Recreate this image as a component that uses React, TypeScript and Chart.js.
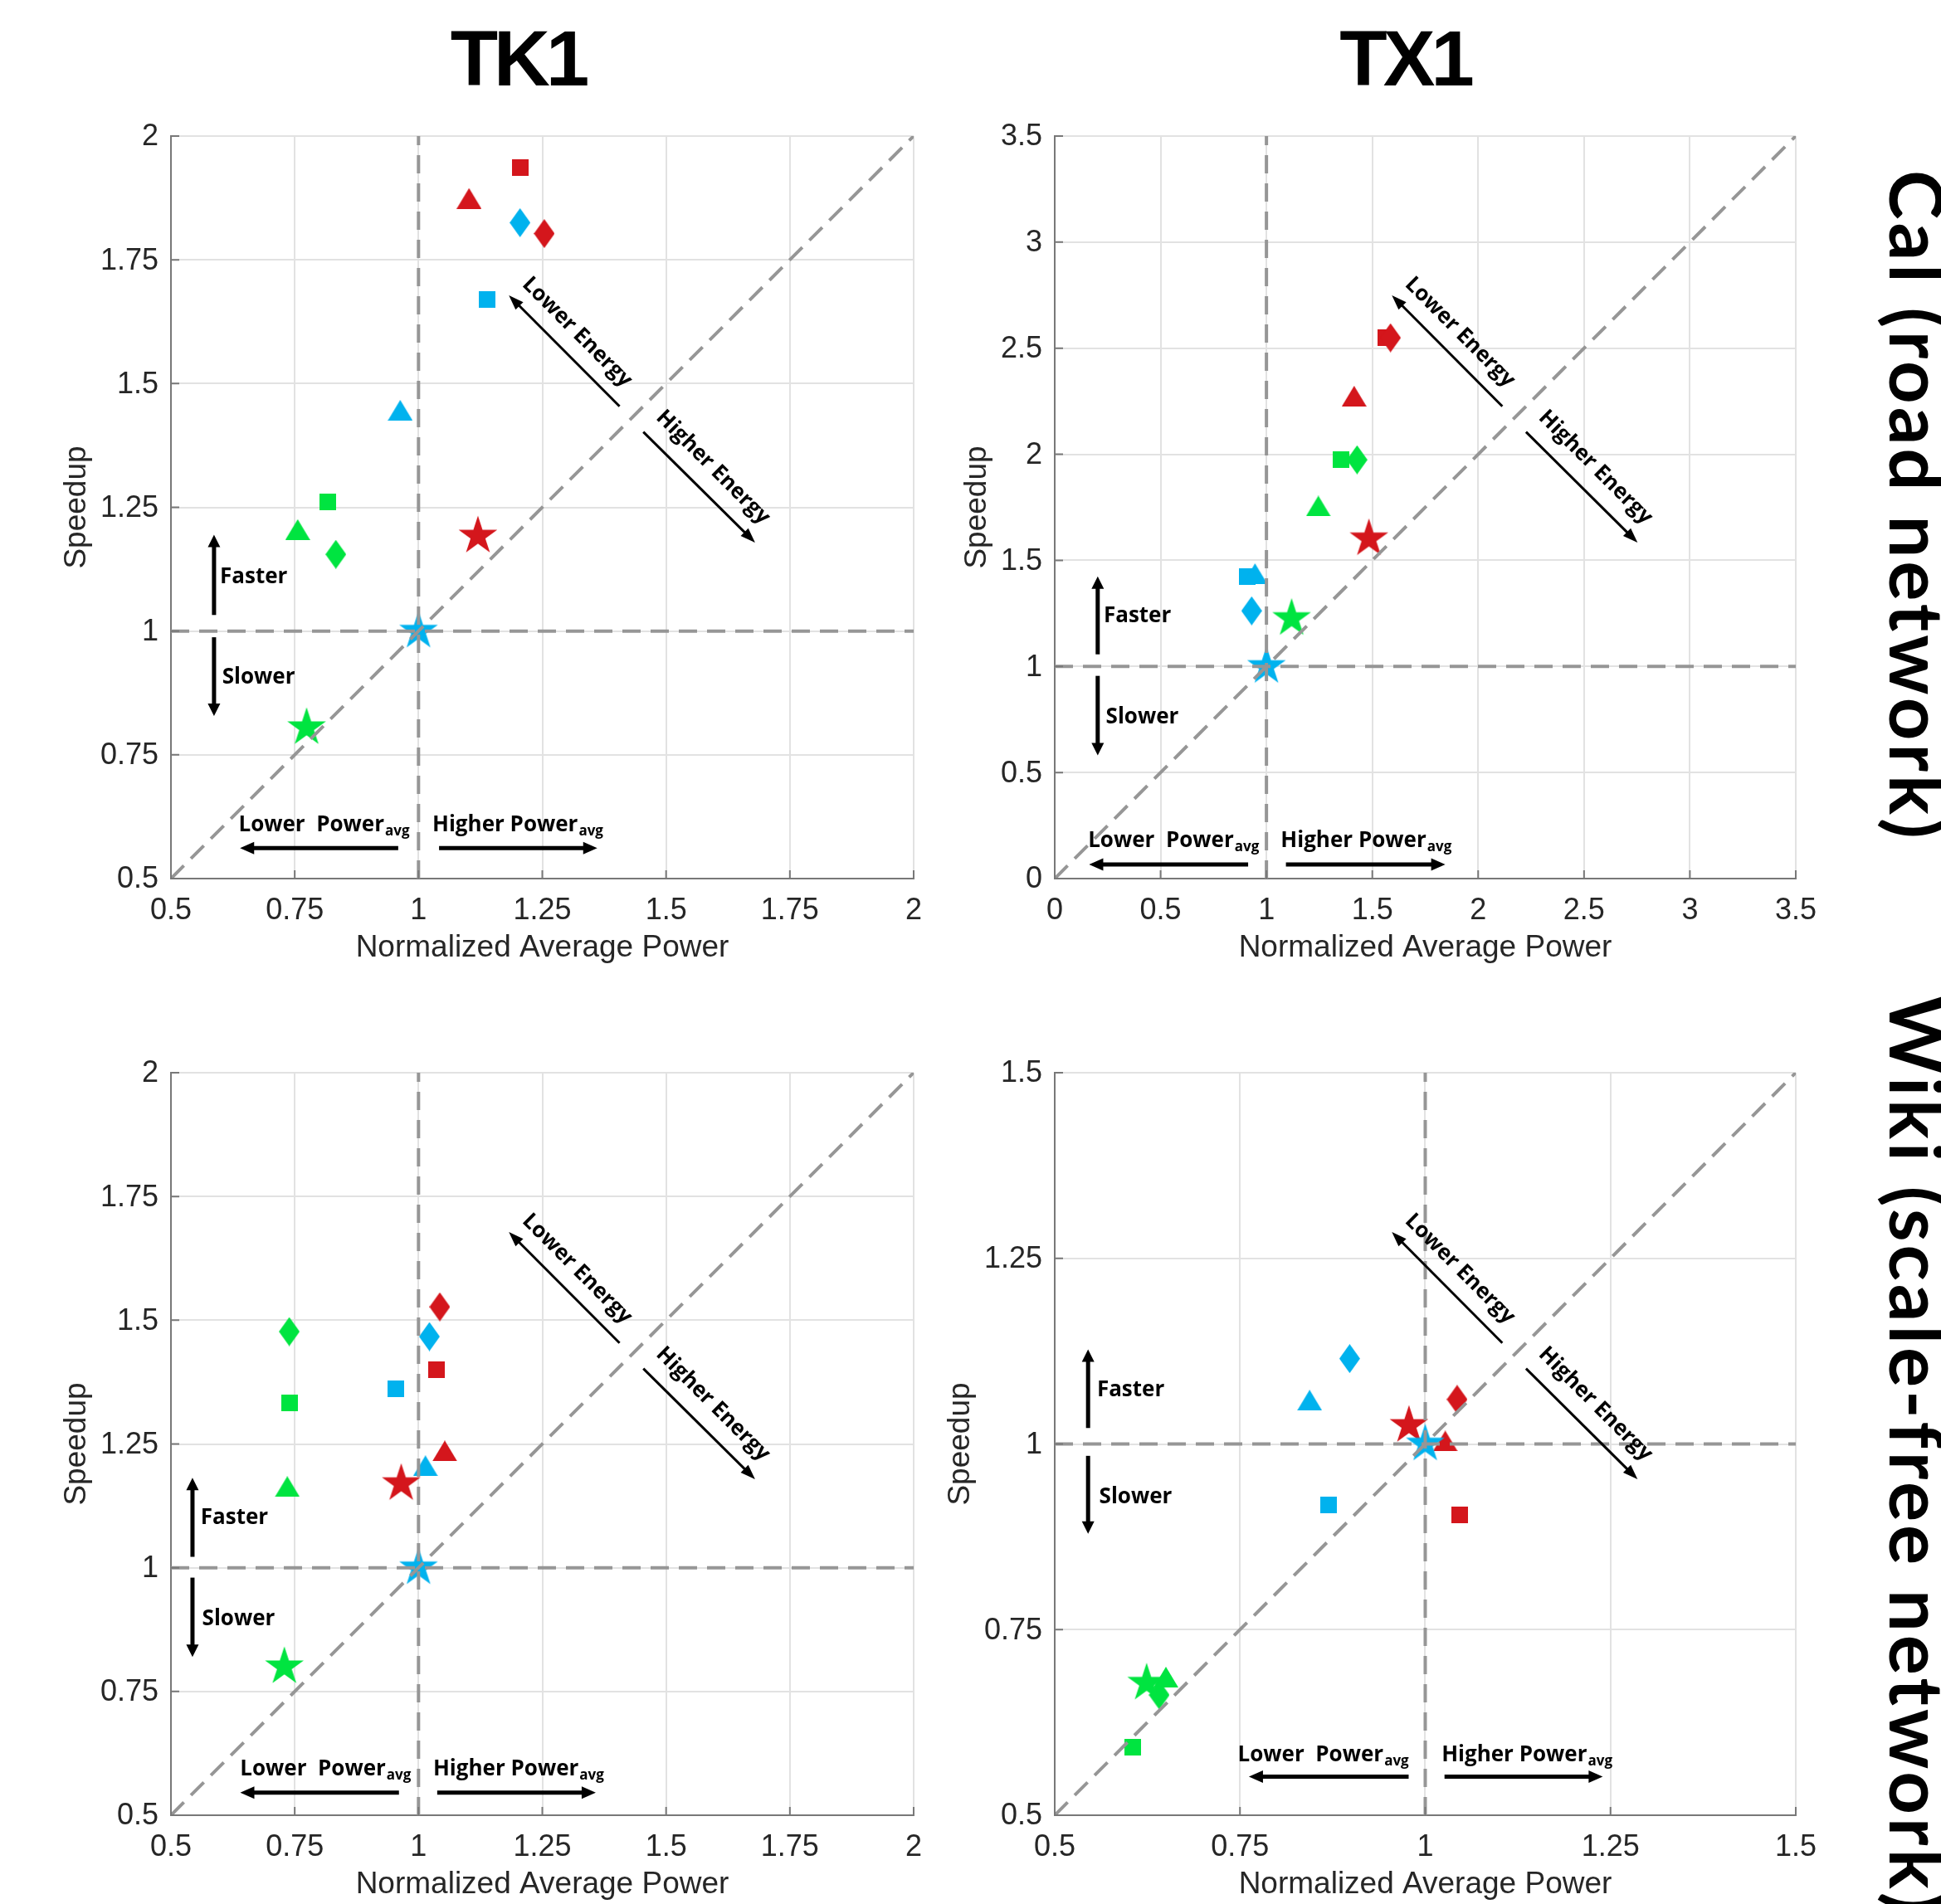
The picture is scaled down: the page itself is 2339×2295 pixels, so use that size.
import React, { useEffect, useRef } from "react";
import { Chart, registerables } from "chart.js";

Chart.register(...registerables);

// ---------------- data ----------------
// order inside each array: [square, triangle, diamond, star]
const tk1CalRedX = [1.206, 1.102, 1.254, 1.12];
const tk1CalRedY = [1.936, 1.874, 1.803, 1.192];
const tk1CalCyanX = [1.138, 0.963, 1.205, 1.0];
const tk1CalCyanY = [1.669, 1.446, 1.825, 1.0];
const tk1CalGreenX = [0.816, 0.756, 0.833, 0.774];
const tk1CalGreenY = [1.261, 1.205, 1.155, 0.805];

const tx1CalRedX = [1.565, 1.414, 1.586, 1.484];
const tx1CalRedY = [2.549, 2.274, 2.549, 1.602];
const tx1CalCyanX = [0.91, 0.946, 0.93, 1.0];
const tx1CalCyanY = [1.423, 1.437, 1.262, 1.0];
const tx1CalGreenX = [1.354, 1.245, 1.428, 1.119];
const tx1CalGreenY = [1.974, 1.756, 1.974, 1.226];

const tk1WikiRedX = [1.036, 1.053, 1.043, 0.965];
const tk1WikiRedY = [1.4, 1.236, 1.527, 1.17];
const tk1WikiCyanX = [0.955, 1.014, 1.022, 1.0];
const tk1WikiCyanY = [1.361, 1.206, 1.467, 1.0];
const tk1WikiGreenX = [0.739, 0.735, 0.739, 0.729];
const tk1WikiGreenY = [1.333, 1.164, 1.477, 0.8];

const tx1WikiRedX = [1.047, 1.027, 1.043, 0.978];
const tx1WikiRedY = [0.905, 1.004, 1.06, 1.025];
const tx1WikiCyanX = [0.869, 0.844, 0.898, 1.0];
const tx1WikiCyanY = [0.918, 1.059, 1.115, 1.0];
const tx1WikiGreenX = [0.605, 0.65, 0.641, 0.624];
const tx1WikiGreenY = [0.592, 0.686, 0.662, 0.678];

const tk1Ticks = [0.5, 0.75, 1, 1.25, 1.5, 1.75, 2];
const tx1CalTicks = [0, 0.5, 1, 1.5, 2, 2.5, 3, 3.5];
const tx1WikiTicks = [0.5, 0.75, 1, 1.25, 1.5];

const columnTitles = ["TK1", "TX1"];
const rowTitles = ["Cal (road network)", "Wiki (scale-free network)"];
const xTitle = "Normalized Average Power";
const yTitle = "Speedup";

// ---------------- styles ----------------
const RED = "rgb(212,22,28)";
const CYAN = "rgb(0,178,238)";
const GREEN = "rgb(0,228,64)";
const REF_GRAY = "rgb(150,150,150)";
const GRID = "rgb(226,226,226)";
const AXIS = "rgb(120,120,120)";
const TEXT = "#262626";
const NOTE_FONT = 'bold 26px "Open Sans"';
const SUB_FONT = 'bold 17px "Open Sans"';
const NOTE_CAP = 9;

const PLOT = 895;
const PAD_TOP = 44;
const PAD_RIGHT = 40;
const Y_AXIS_W = 206;
const X_AXIS_H = 110;
const CW = Y_AXIS_W + PLOT + PAD_RIGHT;
const CH = PAD_TOP + PLOT + X_AXIS_H;

type Shape = "square" | "triangle" | "diamond" | "star";

function makeMarker(shape: Shape, color: string): HTMLCanvasElement {
  const c = document.createElement("canvas");
  if (shape === "square") {
    c.width = 20;
    c.height = 20;
  } else if (shape === "triangle") {
    c.width = 30;
    c.height = 25;
  } else if (shape === "diamond") {
    c.width = 25;
    c.height = 35;
  } else {
    c.width = 52;
    c.height = 52;
  }
  const ctx = c.getContext("2d")!;
  ctx.fillStyle = color;
  ctx.beginPath();
  if (shape === "square") {
    ctx.rect(0, 0, 20, 20);
  } else if (shape === "triangle") {
    ctx.moveTo(15, 0);
    ctx.lineTo(30, 25);
    ctx.lineTo(0, 25);
  } else if (shape === "diamond") {
    ctx.moveTo(12.5, 0);
    ctx.lineTo(25, 17.5);
    ctx.lineTo(12.5, 35);
    ctx.lineTo(0, 17.5);
  } else {
    const R = 24.5;
    const r = R * 0.382;
    for (let i = 0; i < 10; i++) {
      const ang = -Math.PI / 2 + (i * Math.PI) / 5;
      const rad = i % 2 === 0 ? R : r;
      const px = 26 + rad * Math.cos(ang);
      const py = 26 + rad * Math.sin(ang);
      if (i === 0) ctx.moveTo(px, py);
      else ctx.lineTo(px, py);
    }
  }
  ctx.closePath();
  ctx.fill();
  return c;
}

function arrow(ctx: CanvasRenderingContext2D, x1: number, y1: number, x2: number, y2: number, lw: number, hl: number, hw: number) {
  const dx = x2 - x1;
  const dy = y2 - y1;
  const L = Math.hypot(dx, dy);
  const ux = dx / L;
  const uy = dy / L;
  const bx = x2 - ux * hl;
  const by = y2 - uy * hl;
  ctx.lineWidth = lw;
  ctx.lineCap = "butt";
  ctx.beginPath();
  ctx.moveTo(x1, y1);
  ctx.lineTo(bx + ux, by + uy);
  ctx.stroke();
  ctx.beginPath();
  ctx.moveTo(x2, y2);
  ctx.lineTo(bx - (uy * hw) / 2, by + (ux * hw) / 2);
  ctx.lineTo(bx + (uy * hw) / 2, by - (ux * hw) / 2);
  ctx.closePath();
  ctx.fill();
}

function subText(ctx: CanvasRenderingContext2D, main: string, sub: string, x: number, y: number) {
  ctx.font = NOTE_FONT;
  ctx.fillText(main, x, y);
  const w = ctx.measureText(main).width;
  ctx.font = SUB_FONT;
  ctx.fillText(sub, x + w + 1, y + 5);
  ctx.font = NOTE_FONT;
}

const notesPlugin = {
  id: "notes",
  afterDraw(chart: any, _args: any, o: any) {
    if (!o || o.arrowX === undefined) return;
    const ctx: CanvasRenderingContext2D = chart.ctx;
    const a = chart.chartArea;
    const W = a.right - a.left;
    const H = a.bottom - a.top;
    const X = (f: number) => a.left + f * W;
    const Y = (f: number) => a.top + f * H;
    ctx.save();
    // inward tick marks
    const xs = chart.scales.x;
    const ys = chart.scales.y;
    ctx.strokeStyle = AXIS;
    ctx.lineWidth = 2;
    ctx.beginPath();
    xs.ticks.forEach((t: any) => {
      const px = xs.getPixelForValue(t.value);
      ctx.moveTo(px, a.bottom);
      ctx.lineTo(px, a.bottom - 10);
    });
    ys.ticks.forEach((t: any) => {
      const py = ys.getPixelForValue(t.value);
      ctx.moveTo(a.left, py);
      ctx.lineTo(a.left + 10, py);
    });
    ctx.stroke();

    ctx.fillStyle = "#000";
    ctx.strokeStyle = "#000";
    // faster / slower
    arrow(ctx, X(o.arrowX), Y(o.upTail), X(o.arrowX), Y(o.upTip), 5, 15, 15);
    arrow(ctx, X(o.arrowX), Y(o.downTail), X(o.arrowX), Y(o.downTip), 5, 15, 15);
    ctx.font = NOTE_FONT;
    ctx.textAlign = "left";
    ctx.textBaseline = "alphabetic";
    ctx.fillText("Faster", X(o.fasterX), Y(o.fasterY) + NOTE_CAP);
    ctx.fillText("Slower", X(o.slowerX), Y(o.slowerY) + NOTE_CAP);
    // power
    subText(ctx, "Lower  Power", "avg", X(o.lowerTextX), Y(o.powerTextY) + NOTE_CAP);
    subText(ctx, "Higher Power", "avg", X(o.higherTextX), Y(o.powerTextY) + NOTE_CAP);
    arrow(ctx, X(o.leftTail), Y(o.powerArrowY), X(o.leftTip), Y(o.powerArrowY), 5, 17, 15);
    arrow(ctx, X(o.rightTail), Y(o.powerArrowY), X(o.rightTip), Y(o.powerArrowY), 5, 17, 15);
    // energy
    arrow(ctx, X(0.604), Y(0.364), X(0.455), Y(0.2145), 3, 18, 13);
    arrow(ctx, X(0.636), Y(0.3985), X(0.7865), Y(0.5476), 3, 18, 13);
    ctx.textAlign = "center";
    const rot = (txt: string, cx: number, cy: number) => {
      ctx.save();
      ctx.translate(cx, cy);
      ctx.rotate(Math.PI / 4);
      ctx.fillText(txt, 0, NOTE_CAP);
      ctx.restore();
    };
    rot("Lower Energy", X(0.548), Y(0.263));
    rot("Higher Energy", X(0.731), Y(0.445));
    ctx.restore();
  },
};

type Notes = {
  arrowX: number; upTail: number; upTip: number; downTail: number; downTip: number;
  fasterX: number; fasterY: number; slowerX: number; slowerY: number;
  powerTextY: number; lowerTextX: number; higherTextX: number; powerArrowY: number;
  leftTip: number; leftTail: number; rightTail: number; rightTip: number;
};

type Spec = {
  redX: number[]; redY: number[]; cyanX: number[]; cyanY: number[]; greenX: number[]; greenY: number[];
  ticks: number[]; yTitleOffset: number; notes: Notes;
};

const notesA: Notes = {
  arrowX: 0.058, upTail: 0.645, upTip: 0.537, downTail: 0.675, downTip: 0.781,
  fasterX: 0.066, fasterY: 0.592, slowerX: 0.069, slowerY: 0.727,
  powerTextY: 0.926, lowerTextX: 0.091, higherTextX: 0.352, powerArrowY: 0.959,
  leftTip: 0.093, leftTail: 0.306, rightTail: 0.361, rightTip: 0.574,
};
const notesB: Notes = {
  arrowX: 0.058, upTail: 0.698, upTip: 0.593, downTail: 0.727, downTip: 0.834,
  fasterX: 0.066, fasterY: 0.645, slowerX: 0.069, slowerY: 0.781,
  powerTextY: 0.948, lowerTextX: 0.045, higherTextX: 0.305, powerArrowY: 0.981,
  leftTip: 0.0464, leftTail: 0.261, rightTail: 0.312, rightTip: 0.527,
};
const notesC: Notes = {
  arrowX: 0.029, upTail: 0.652, upTip: 0.5455, downTail: 0.68, downTip: 0.787,
  fasterX: 0.04, fasterY: 0.598, slowerX: 0.042, slowerY: 0.734,
  powerTextY: 0.9366, lowerTextX: 0.093, higherTextX: 0.353, powerArrowY: 0.9695,
  leftTip: 0.0933, leftTail: 0.307, rightTail: 0.3585, rightTip: 0.572,
};
const notesD: Notes = {
  arrowX: 0.045, upTail: 0.4785, upTip: 0.3727, downTail: 0.516, downTip: 0.621,
  fasterX: 0.057, fasterY: 0.426, slowerX: 0.06, slowerY: 0.57,
  powerTextY: 0.917, lowerTextX: 0.247, higherTextX: 0.522, powerArrowY: 0.948,
  leftTip: 0.262, leftTail: 0.4776, rightTail: 0.526, rightTip: 0.7395,
};

const specs: Spec[] = [
  { redX: tk1CalRedX, redY: tk1CalRedY, cyanX: tk1CalCyanX, cyanY: tk1CalCyanY, greenX: tk1CalGreenX, greenY: tk1CalGreenY, ticks: tk1Ticks, yTitleOffset: 92.5, notes: notesA },
  { redX: tx1CalRedX, redY: tx1CalRedY, cyanX: tx1CalCyanX, cyanY: tx1CalCyanY, greenX: tx1CalGreenX, greenY: tx1CalGreenY, ticks: tx1CalTicks, yTitleOffset: 113, notes: notesB },
  { redX: tk1WikiRedX, redY: tk1WikiRedY, cyanX: tk1WikiCyanX, cyanY: tk1WikiCyanY, greenX: tk1WikiGreenX, greenY: tk1WikiGreenY, ticks: tk1Ticks, yTitleOffset: 92.5, notes: notesC },
  { redX: tx1WikiRedX, redY: tx1WikiRedY, cyanX: tx1WikiCyanX, cyanY: tx1WikiCyanY, greenX: tx1WikiGreenX, greenY: tx1WikiGreenY, ticks: tx1WikiTicks, yTitleOffset: 92.5, notes: notesD },
];

const SHAPES: Shape[] = ["square", "triangle", "diamond", "star"];

function buildConfig(spec: Spec): any {
  const min = spec.ticks[0];
  const max = spec.ticks[spec.ticks.length - 1];
  const colorSets = [
    { color: RED, xs: spec.redX, ys: spec.redY },
    { color: GREEN, xs: spec.greenX, ys: spec.greenY },
    { color: CYAN, xs: spec.cyanX, ys: spec.cyanY },
  ];
  const datasets: any[] = [];
  let seq = 0;
  SHAPES.forEach((shape, si) => {
    colorSets.forEach((cs) => {
      datasets.push({
        data: [{ x: cs.xs[si], y: cs.ys[si] }],
        pointStyle: makeMarker(shape, cs.color),
        pointRadius: 10,
        pointHoverRadius: 10,
        showLine: false,
        order: 100 - seq,
      });
      seq++;
    });
  });
  const refLine = (pts: { x: number; y: number }[]) => ({
    data: pts,
    showLine: true,
    borderColor: REF_GRAY,
    borderWidth: 4,
    borderDash: [22, 12],
    pointRadius: 0,
    fill: false,
    order: 0,
  });
  datasets.push(refLine([{ x: min, y: min }, { x: max, y: max }]));
  datasets.push(refLine([{ x: 1, y: min }, { x: 1, y: max }]));
  datasets.push(refLine([{ x: min, y: 1 }, { x: max, y: 1 }]));

  const tickFont = { family: '"Liberation Sans", Arial, sans-serif', size: 36 };
  const titleFont = { family: '"Liberation Sans", Arial, sans-serif', size: 37 };
  const common = (isX: boolean) => ({
    type: "linear",
    min,
    max,
    afterBuildTicks: (s: any) => {
      s.ticks = spec.ticks.map((v) => ({ value: v }));
    },
    afterFit: (s: any) => {
      if (isX) s.height = X_AXIS_H;
      else s.width = Y_AXIS_W;
    },
    ticks: {
      callback: (v: any) => String(v),
      font: tickFont,
      color: TEXT,
      padding: isX ? 17 : 15,
      labelOffset: isX ? 0 : 1.5,
      maxRotation: 0,
      autoSkip: false,
    },
    grid: { color: GRID, lineWidth: 2, drawTicks: false },
    border: { display: true, color: AXIS, width: 2 },
    title: {
      display: true,
      text: isX ? xTitle : yTitle,
      color: TEXT,
      font: titleFont,
      padding: isX ? { top: 0, bottom: X_AXIS_H - 84 - 22.2 } : { top: spec.yTitleOffset - 22.2, bottom: 0 },
    },
  });

  return {
    type: "scatter",
    data: { datasets },
    options: {
      animation: false,
      responsive: false,
      events: [],
      layout: { padding: { top: PAD_TOP, right: PAD_RIGHT, left: 0, bottom: 0 } },
      plugins: {
        legend: { display: false },
        tooltip: { enabled: false },
        notes: spec.notes,
      },
      scales: { x: common(true), y: common(false) },
    },
    plugins: [notesPlugin],
  };
}

function Panel({ spec, left, top }: { spec: Spec; left: number; top: number }) {
  const ref = useRef<HTMLCanvasElement>(null);
  useEffect(() => {
    const chart = new Chart(ref.current!, buildConfig(spec));
    let alive = true;
    if ((document as any).fonts && (document as any).fonts.ready) {
      (document as any).fonts.ready.then(() => {
        if (alive) chart.update();
      });
    }
    return () => {
      alive = false;
      chart.destroy();
    };
  }, []);
  return (
    <canvas
      ref={ref}
      width={CW}
      height={CH}
      style={{ position: "absolute", left, top, width: CW, height: CH, display: "block" }}
    />
  );
}

const plotLefts = [206, 1271];
const plotTops = [164, 1293];

export default function App() {
  const titleStyle = (cx: number): React.CSSProperties => ({
    position: "absolute",
    left: cx - 300,
    top: 24,
    width: 600,
    textAlign: "center",
    fontFamily: '"Liberation Sans", Arial, sans-serif',
    fontWeight: 700,
    fontSize: 94,
    lineHeight: "94px",
    letterSpacing: "-5px",
    color: "#000",
    whiteSpace: "nowrap",
  });
  const rowStyle = (top: number): React.CSSProperties => ({
    position: "absolute",
    left: 2357,
    top,
    transformOrigin: "0 0",
    transform: "rotate(90deg)",
    fontFamily: "Lato, sans-serif",
    fontWeight: 700,
    fontSize: 90,
    lineHeight: "90px",
    letterSpacing: "4px",
    color: "#000",
    whiteSpace: "nowrap",
  });
  return (
    <div
      style={{
        position: "absolute",
        left: 0,
        top: 0,
        width: 2339,
        height: 2295,
        overflow: "hidden",
        background: "#fff",
      }}
    >
      <div style={titleStyle(624)}>{columnTitles[0]}</div>
      <div style={titleStyle(1693)}>{columnTitles[1]}</div>
      <Panel spec={specs[0]} left={plotLefts[0] - Y_AXIS_W} top={plotTops[0] - PAD_TOP} />
      <Panel spec={specs[1]} left={plotLefts[1] - Y_AXIS_W} top={plotTops[0] - PAD_TOP} />
      <Panel spec={specs[2]} left={plotLefts[0] - Y_AXIS_W} top={plotTops[1] - PAD_TOP} />
      <Panel spec={specs[3]} left={plotLefts[1] - Y_AXIS_W} top={plotTops[1] - PAD_TOP} />
      <div style={rowStyle(205)}>{rowTitles[0]}</div>
      <div style={rowStyle(1200)}>{rowTitles[1]}</div>
    </div>
  );
}
